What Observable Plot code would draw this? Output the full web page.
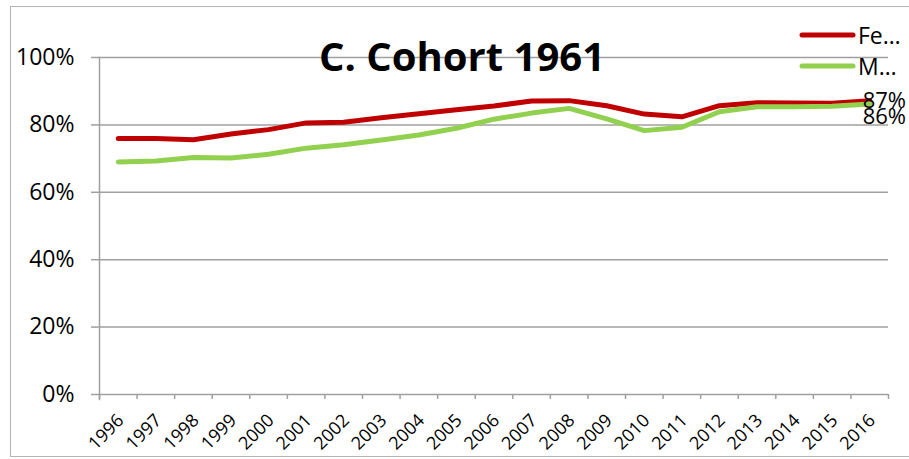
<!DOCTYPE html>
<html><head><meta charset="utf-8">
<script src="https://cdn.jsdelivr.net/npm/d3@7"></script>
<script src="https://cdn.jsdelivr.net/npm/@observablehq/plot@0.6"></script>
<style>
body{margin:0;background:#fff;}
#chart{width:909px;height:459px;}
</style>
</head><body><div id="chart"></div>
<script>
const title = "C. Cohort 1961";
const years = ["1996","1997","1998","1999","2000","2001","2002","2003","2004","2005","2006","2007","2008","2009","2010","2011","2012","2013","2014","2015","2016"];
const female = [76.0,76.0,75.6,77.3,78.6,80.6,80.8,82.1,83.3,84.5,85.6,87.1,87.2,85.7,83.2,82.4,85.7,86.6,86.5,86.4,87.2];
const male   = [69.0,69.3,70.3,70.2,71.3,73.1,74.1,75.5,77.0,79.0,81.7,83.5,84.9,81.8,78.3,79.3,83.9,85.4,85.4,85.5,86.2];
const seriesNames = ["Female","Male"];
const legendLabels = ["Fe\u2026","M\u2026"];
const colors = ["#c00000","#92d050"];
const yTicks = [0,0.2,0.4,0.6,0.8,1];

const data = years.flatMap((yr,i)=>[
  {year:yr, series:seriesNames[0], value:female[i]/100},
  {year:yr, series:seriesNames[1], value:male[i]/100}
]);
const lastYear = years[years.length-1];
const W = 909, H = 459, ML = 99, MR = 21, MT = 57, MB = 65;
const step = (W-ML-MR)/years.length;
const pct = d3.format(".0%");
const grid = "#a0a0a0";
const font = "'Open Sans', Lato, sans-serif";

const plot = Plot.plot({
  width:W, height:H, marginLeft:ML, marginRight:MR, marginTop:MT, marginBottom:MB,
  style:{fontFamily:font, background:"transparent", overflow:"visible", color:"#000"},
  x:{type:"point", domain:years, padding:0.5, round:false, axis:null},
  y:{domain:[0,1], axis:null},
  color:{domain:seriesNames, range:colors},
  marks:[
    Plot.ruleY(yTicks, {stroke:grid, strokeWidth:1.5}),
    Plot.frame({anchor:"left", stroke:grid, strokeWidth:1.5, insetBottom:-5}),
    Plot.axisY({ticks:yTicks, label:null, tickSize:8, tickPadding:17, tickFormat:pct, fontSize:23, stroke:grid, strokeWidth:1.5, fill:"#000"}),
    Plot.ruleX(years, {x:d=>d, y1:()=>0, y2:()=>0, insetTop:5, dx:-step/2, stroke:grid, strokeWidth:1.5}),
    Plot.ruleX([lastYear], {x:d=>d, y1:()=>0, y2:()=>0, insetTop:5, dx:step/2, stroke:grid, strokeWidth:1.5}),
    Plot.text(years, {x:d=>d, y:()=>0, text:d=>d, rotate:-45, textAnchor:"end", dx:2.5, dy:23, fontSize:18, fill:"#000"}),
    Plot.line(data, {x:"year", y:"value", z:"series", stroke:"series", strokeWidth:5, strokeLinejoin:"round", strokeLinecap:"round"}),
    Plot.text(data.filter(d=>d.year===lastYear && d.series===seriesNames[0]), {x:"year", y:"value", text:d=>pct(d.value), textAnchor:"start", dx:-7, dy:0, fontSize:22, fill:"#000"}),
    Plot.text(data.filter(d=>d.year===lastYear && d.series===seriesNames[1]), {x:"year", y:"value", text:d=>pct(d.value), textAnchor:"start", dx:-7, dy:13, fontSize:22, fill:"#000"})
  ]
});
document.getElementById("chart").appendChild(plot);

const svg = d3.select(plot);
svg.insert("rect", ":first-child").attr("x",10.5).attr("y",6.5).attr("width",910).attr("height",450)
  .attr("fill","none").attr("stroke","#b4b4b4").attr("stroke-width",1);
svg.append("text").attr("x",462).attr("y",71).attr("text-anchor","middle")
  .attr("font-size",40).attr("font-weight","bold").attr("fill","#000").text(title);
const lg = svg.append("g").attr("text-anchor","start");
legendLabels.forEach((lab,i)=>{
  const yy = 35 + i*31;
  lg.append("line").attr("x1",802).attr("x2",853).attr("y1",yy).attr("y2",yy)
    .attr("stroke",colors[i]).attr("stroke-width",5).attr("stroke-linecap","round");
  lg.append("text").attr("x",858).attr("y",yy+9).attr("font-size",23).attr("fill","#000").text(lab);
});
</script>
</body></html>
